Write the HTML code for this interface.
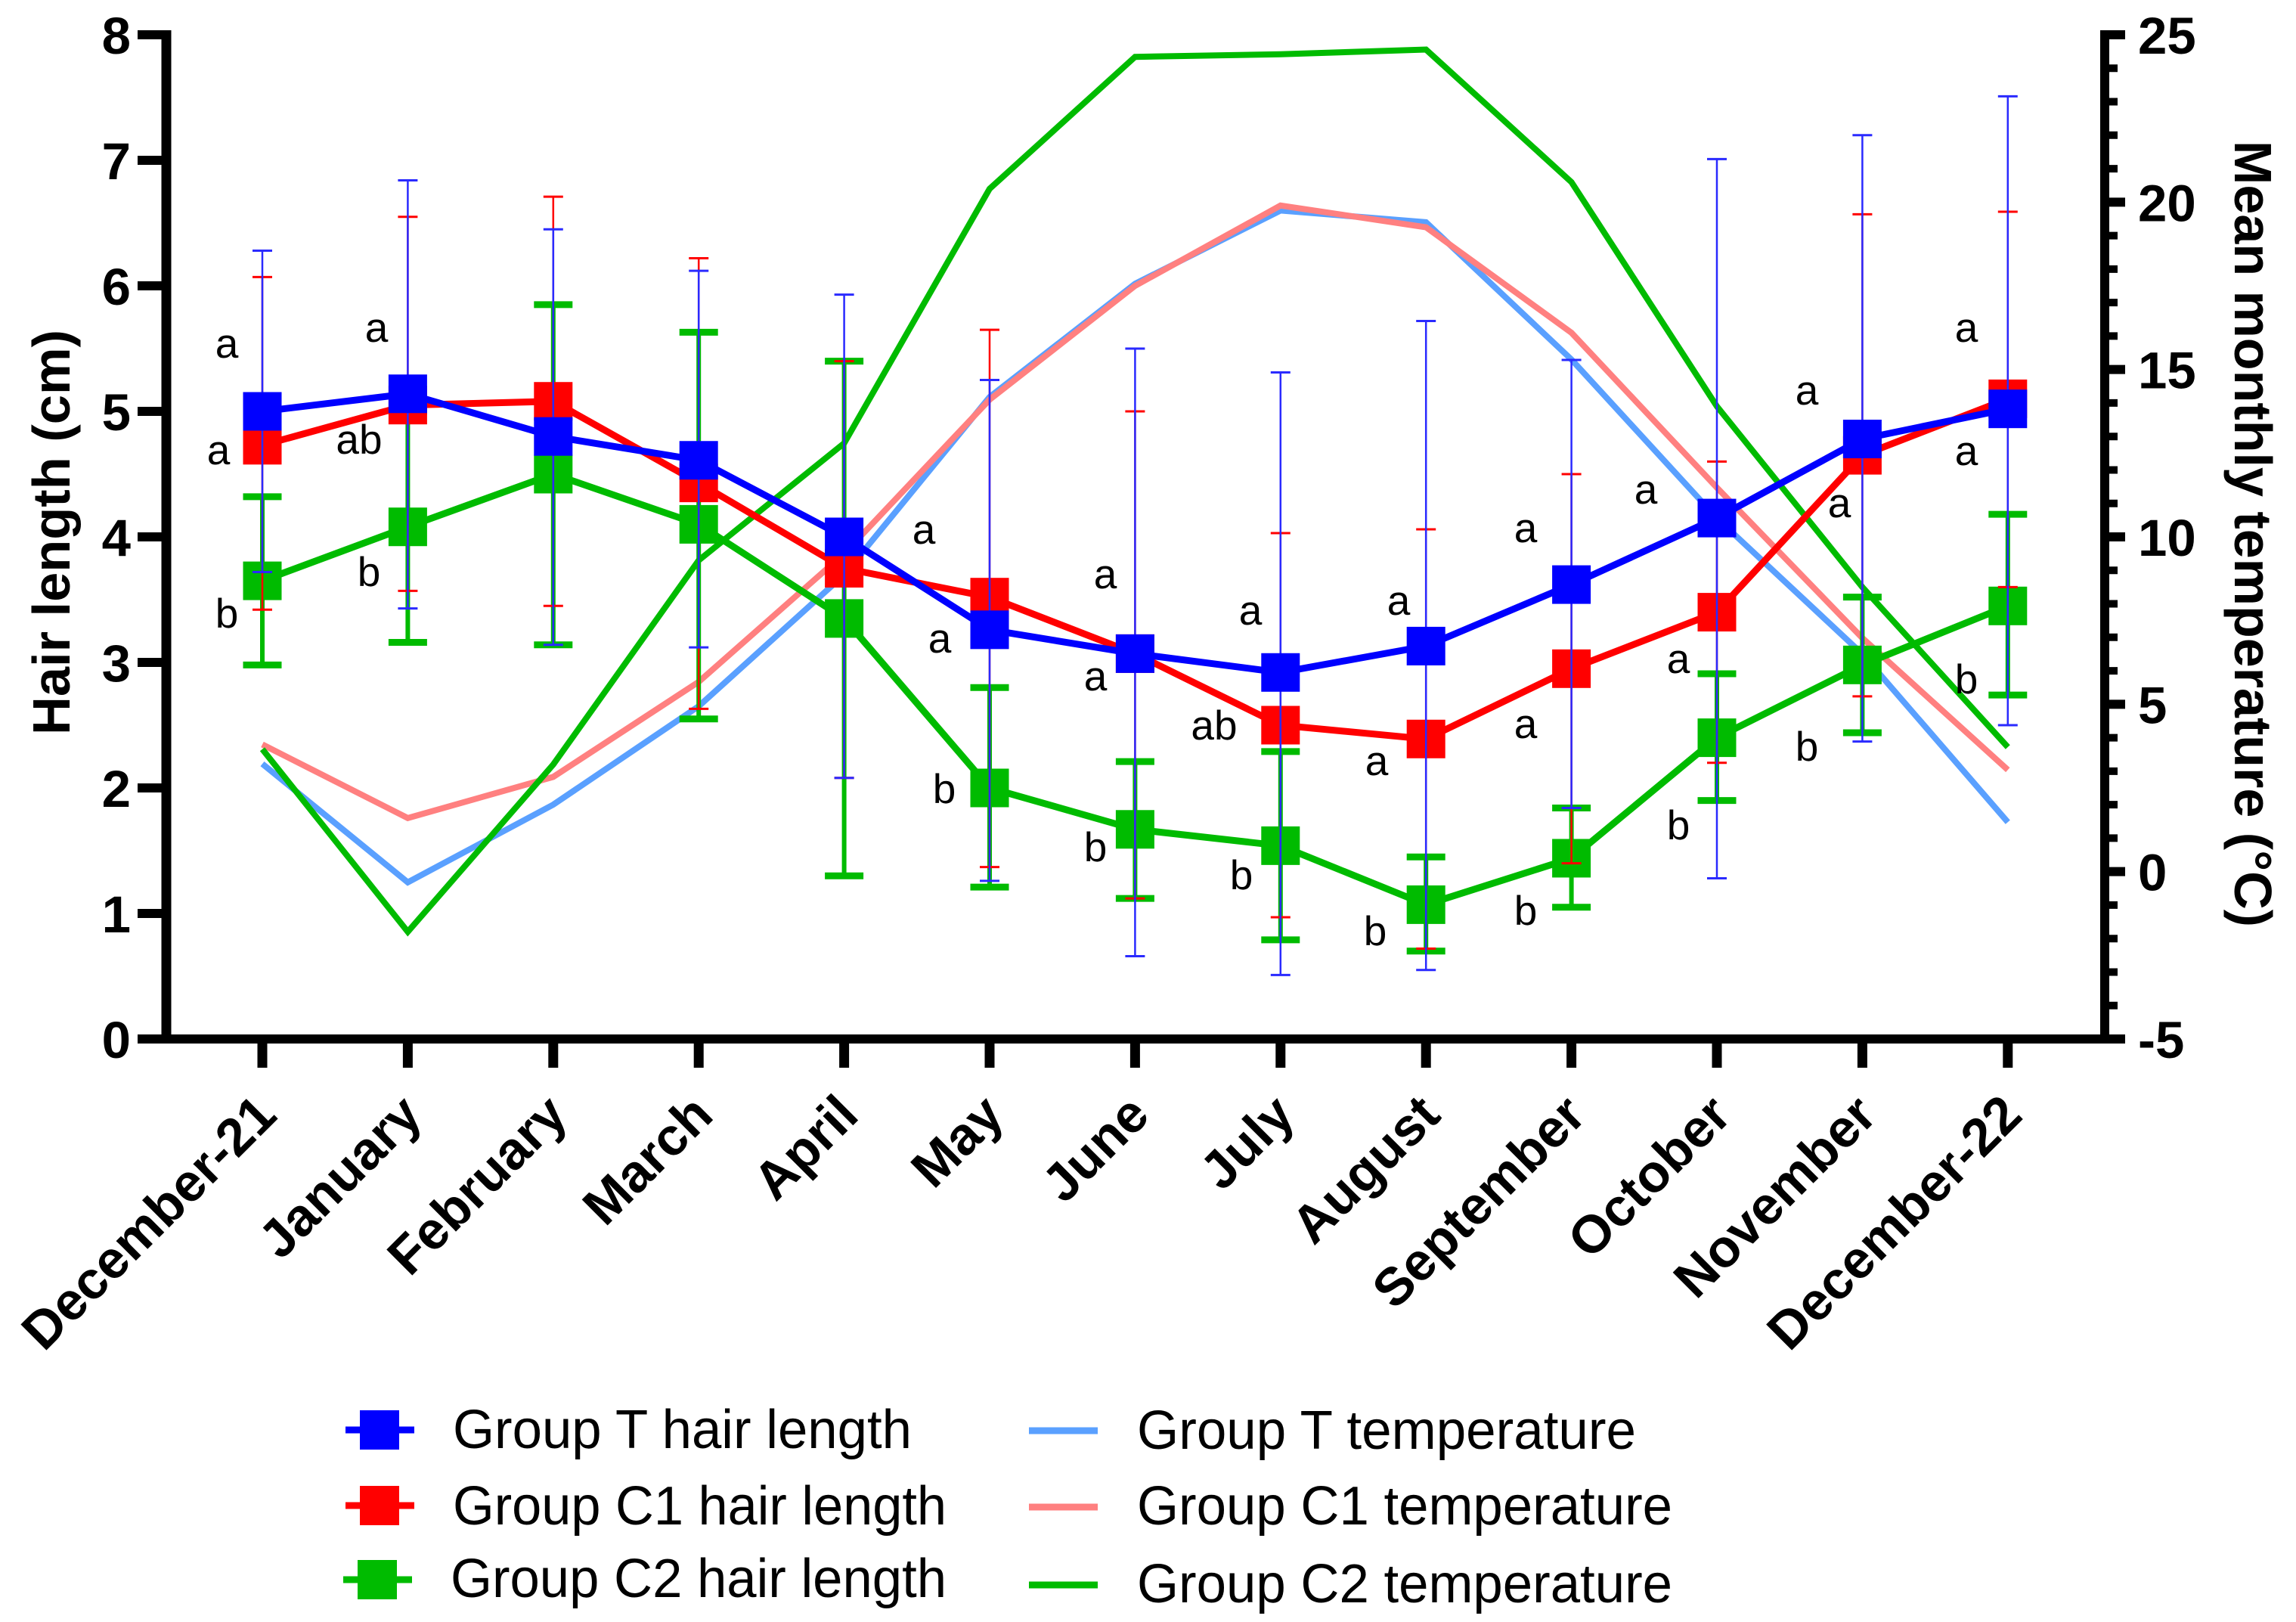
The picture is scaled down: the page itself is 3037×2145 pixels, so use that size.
<!DOCTYPE html>
<html lang="en">
<head>
<meta charset="utf-8">
<title>Hair length and mean monthly temperature</title>
<style>
html,body{margin:0;padding:0;background:#fff;}
svg{display:block;}
text{font-family:"Liberation Sans",Arial,sans-serif;fill:#000;}
.b{font-weight:bold;}
</style>
</head>
<body>
<svg id="chart" xmlns="http://www.w3.org/2000/svg" width="3037" height="2145" viewBox="0 0 3037 2145">
<rect x="0" y="0" width="3037" height="2145" fill="#fff"/>
<g id="axes"></g>
<g id="tempLines"></g>
<g id="hairSeries"></g>
<g id="labels"></g>

<text class="b" transform="translate(92,704) rotate(-90)" text-anchor="middle" font-size="70" textLength="536" lengthAdjust="spacingAndGlyphs">Hair length (cm)</text>
<text class="b" transform="translate(2956,706) rotate(90)" text-anchor="middle" font-size="70" textLength="1040" lengthAdjust="spacingAndGlyphs">Mean monthly temperature (°C)</text>

<g font-size="55" text-anchor="middle">
<text x="300" y="473">a</text>
<text x="289" y="614">a</text>
<text x="300" y="830">b</text>
<text x="498" y="452">a</text>
<text x="475" y="600">ab</text>
<text x="488" y="775">b</text>
<text x="1222" y="719">a</text>
<text x="1243" y="863">a</text>
<text x="1249" y="1062">b</text>
<text x="1462" y="778">a</text>
<text x="1449" y="913">a</text>
<text x="1449" y="1139">b</text>
<text x="1654" y="826">a</text>
<text x="1606" y="978">ab</text>
<text x="1642" y="1176">b</text>
<text x="1850" y="813">a</text>
<text x="1821" y="1025">a</text>
<text x="1819" y="1250">b</text>
<text x="2018" y="717">a</text>
<text x="2018" y="976">a</text>
<text x="2018" y="1223">b</text>
<text x="2177" y="666">a</text>
<text x="2220" y="890">a</text>
<text x="2220" y="1110">b</text>
<text x="2390" y="535">a</text>
<text x="2433" y="684">a</text>
<text x="2390" y="1006">b</text>
<text x="2601" y="452">a</text>
<text x="2601" y="615">a</text>
<text x="2601" y="917">b</text>
</g>

<g font-size="72">
<g>
<line x1="457" x2="548" y1="1891" y2="1891" stroke="#0000ff" stroke-width="9"/>
<rect x="476" y="1865" width="52" height="52" fill="#0000ff"/>
<text x="599" y="1915" textLength="607" lengthAdjust="spacingAndGlyphs">Group T hair length</text>
</g>
<g>
<line x1="457" x2="548" y1="1991" y2="1991" stroke="#ff0000" stroke-width="9"/>
<rect x="476" y="1965" width="52" height="52" fill="#ff0000"/>
<text x="599" y="2016" textLength="653" lengthAdjust="spacingAndGlyphs">Group C1 hair length</text>
</g>
<g>
<line x1="454" x2="545" y1="2089" y2="2089" stroke="#00bb00" stroke-width="9"/>
<rect x="473" y="2063" width="52" height="52" fill="#00bb00"/>
<text x="596" y="2112" textLength="656" lengthAdjust="spacingAndGlyphs">Group C2 hair length</text>
</g>
<g>
<line x1="1361" x2="1452" y1="1892" y2="1892" stroke="#5aa0ff" stroke-width="9"/>
<text x="1504" y="1916" textLength="660" lengthAdjust="spacingAndGlyphs">Group T temperature</text>
</g>
<g>
<line x1="1361" x2="1452" y1="1993" y2="1993" stroke="#ff8080" stroke-width="9"/>
<text x="1504" y="2016" textLength="708" lengthAdjust="spacingAndGlyphs">Group C1 temperature</text>
</g>
<g>
<line x1="1361" x2="1452" y1="2096" y2="2096" stroke="#00bb00" stroke-width="9"/>
<text x="1504" y="2119" textLength="708" lengthAdjust="spacingAndGlyphs">Group C2 temperature</text>
</g>
</g>
</svg>

<script>
var categories = ["December-21","January","February","March","April","May","June","July","August","September","October","November","December-22"];
var leftTicks = [0,1,2,3,4,5,6,7,8];
var rightTicks = [-5,0,5,10,15,20,25];

var hairT = [5.0,5.14,4.8,4.61,4.0,3.26,3.07,2.92,3.13,3.62,4.15,4.78,5.02];
var hairC1 = [4.73,5.05,5.08,4.43,3.75,3.52,3.07,2.5,2.39,2.95,3.4,4.65,5.1];
var hairC2 = [3.65,4.08,4.5,4.1,3.35,2.0,1.67,1.54,1.07,1.44,2.4,2.98,3.45];

var hairTUpper = [6.28,6.84,6.45,6.12,5.93,5.25,5.5,5.31,5.72,5.41,7.01,7.2,7.51];
var hairTLower = [3.72,3.43,3.14,3.12,2.08,1.26,0.66,0.51,0.55,1.84,1.28,2.37,2.5];
var hairC1Upper = [6.07,6.55,6.71,6.22,5.4,5.65,5.0,4.03,4.06,4.5,4.6,6.57,6.59];
var hairC1Lower = [3.42,3.57,3.45,2.63,2.08,1.37,1.12,0.97,0.72,1.4,2.2,2.73,3.6];
var hairC2Upper = [4.32,5.0,5.85,5.63,5.4,2.8,2.21,2.29,1.45,1.84,2.91,3.52,4.18];
var hairC2Lower = [2.98,3.16,3.14,2.55,1.3,1.21,1.12,0.79,0.7,1.05,1.9,2.44,2.74];

var tempT = [3.22,-0.32,2.0,4.94,8.87,14.18,17.56,19.75,19.4,15.3,10.56,6.5,1.48];
var tempC1 = [3.8,1.6,2.83,5.67,9.5,14.1,17.5,19.9,19.25,16.1,11.47,6.98,3.04];
var tempC2 = [3.66,-1.8,3.2,9.3,12.8,20.4,24.34,24.42,24.56,20.6,13.9,8.5,3.72];

var NS = "http://www.w3.org/2000/svg";
var AX = {x0:347, dx:192.4, top:46, bottom:1374, left:220, right:2784};

function xPos(i){ return AX.x0 + i*AX.dx; }
function yLeft(v){ return AX.bottom - v*(AX.bottom-AX.top)/8; }
function yRight(v){ return AX.bottom - (v+5)*(AX.bottom-AX.top)/30; }

function mk(tag, attrs, parent){
  var el = document.createElementNS(NS, tag);
  for (var k in attrs) el.setAttribute(k, attrs[k]);
  parent.appendChild(el);
  return el;
}
function pts(vals, yf){
  return vals.map(function(v,i){ return xPos(i).toFixed(1)+","+yf(v).toFixed(1); }).join(" ");
}

var axes = document.getElementById("axes");
var labels = document.getElementById("labels");

var leftAxis = mk("line",{x1:AX.left,x2:AX.left,y1:AX.top-6,y2:AX.bottom,stroke:"#000","stroke-width":13},axes);


var rightAxis = mk("line",{x1:AX.right,x2:AX.right,y1:AX.top-6,y2:AX.bottom,stroke:"#000","stroke-width":12},axes);


var bottomAxis = mk("line",{x1:182,x2:2811,y1:AX.bottom,y2:AX.bottom,stroke:"#000","stroke-width":12},axes);



leftTicks.forEach(function(v){
  var y = yLeft(v);
  var t = mk("line",{x1:182,x2:AX.left,y1:y,y2:y,stroke:"#000","stroke-width":12},axes);
  
  
  var l = mk("text",{"class":"b",x:173,y:y+25,"text-anchor":"end","font-size":69},labels);
  
  
  l.textContent = v;
});

rightTicks.forEach(function(v){
  var y = yRight(v);
  var t = mk("line",{x1:AX.right,x2:2811,y1:y,y2:y,stroke:"#000","stroke-width":12},axes);
  
  
  var l = mk("text",{"class":"b",x:2828,y:y+25,"text-anchor":"start","font-size":69},labels);
  
  
  l.textContent = v;
  if (v < 25) {
    for (var m = 1; m < 5; m++) {
      var ym = yRight(v+m);
      var mt = mk("line",{x1:AX.right,x2:2801,y1:ym,y2:ym,stroke:"#000","stroke-width":10},axes);
      
      
    }
  }
});

categories.forEach(function(c,i){
  var x = xPos(i);
  var t = mk("line",{x1:x,x2:x,y1:AX.bottom,y2:1412,stroke:"#000","stroke-width":13},axes);
  
  
  var l = mk("text",{"class":"b",transform:"translate("+(x+22)+",1478) rotate(-45)","text-anchor":"end","font-size":70},labels);
  
  
  l.textContent = c;
});

var tempG = document.getElementById("tempLines");
var lineTempT = mk("polyline",{points:pts(tempT,yRight),fill:"none",stroke:"#5aa0ff","stroke-width":8,"stroke-linejoin":"miter"},tempG);


var lineTempC1 = mk("polyline",{points:pts(tempC1,yRight),fill:"none",stroke:"#ff8080","stroke-width":8,"stroke-linejoin":"miter"},tempG);


var lineTempC2 = mk("polyline",{points:pts(tempC2,yRight),fill:"none",stroke:"#00bb00","stroke-width":8,"stroke-linejoin":"miter"},tempG);



var hairG = document.getElementById("hairSeries");

function drawBars(upper, lower, color, stemW, capW, capH, parent){
  upper.forEach(function(u,i){
    var x = xPos(i), yu = yLeft(u), yl = yLeft(lower[i]);
    var s = mk("line",{x1:x,x2:x,y1:yu,y2:yl,stroke:color,"stroke-width":stemW},parent);
    
    
    var c1 = mk("line",{x1:x-capW/2,x2:x+capW/2,y1:yu,y2:yu,stroke:color,"stroke-width":capH},parent);
    
    
    var c2 = mk("line",{x1:x-capW/2,x2:x+capW/2,y1:yl,y2:yl,stroke:color,"stroke-width":capH},parent);
    
    
  });
}
function drawSeries(vals, color, parent){
  var line = mk("polyline",{points:pts(vals,yLeft),fill:"none",stroke:color,"stroke-width":9},parent);
  
  
  vals.forEach(function(v,i){
    var r = mk("rect",{x:xPos(i)-25.5,y:yLeft(v)-25.5,width:51,height:51,fill:color},parent);
    
    
  });
}

drawBars(hairC2Upper, hairC2Lower, "#00bb00", 6, 51, 9, hairG);
drawSeries(hairC2, "#00bb00", hairG);
drawBars(hairC1Upper, hairC1Lower, "#ff0000", 2.5, 26, 3, hairG);
drawSeries(hairC1, "#ff0000", hairG);
drawBars(hairTUpper, hairTLower, "#2a2aff", 2.5, 26, 3, hairG);
drawSeries(hairT, "#0000ff", hairG);
</script>
</body>
</html>
